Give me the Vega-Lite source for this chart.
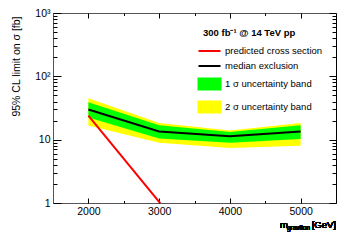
{
  "$schema": "https://vega.github.io/schema/vega-lite/v6.json",
  "width": 283,
  "height": 190,
  "autosize": "none",
  "padding": {"left": 53, "top": 13, "right": 18, "bottom": 37},
  "background": "white",
  "config": {
    "view": {"stroke": null},
    "font": "Liberation Sans",
    "axis": {
      "grid": false,
      "domainColor": "#555555",
      "domainWidth": 1,
      "tickColor": "#000000",
      "tickWidth": 1,
      "labelFont": "Liberation Sans",
      "labelFontSize": 10.5,
      "labelColor": "#000000",
      "titleFont": "Liberation Sans",
      "titleColor": "#000000",
      "titleFontWeight": "normal"
    }
  },
  "data": {
    "values": [
      {"m": 2000, "s": "2 σ uncertainty band", "lo": 16.7, "hi": 45},
      {"m": 3000, "s": "2 σ uncertainty band", "lo": 8.9, "hi": 18.4},
      {"m": 4000, "s": "2 σ uncertainty band", "lo": 7.4, "hi": 14},
      {"m": 5000, "s": "2 σ uncertainty band", "lo": 8.0, "hi": 18.4},
      {"m": 2000, "s": "1 σ uncertainty band", "lo": 22.4, "hi": 39},
      {"m": 3000, "s": "1 σ uncertainty band", "lo": 10.4, "hi": 16.9},
      {"m": 4000, "s": "1 σ uncertainty band", "lo": 8.9, "hi": 13.2},
      {"m": 5000, "s": "1 σ uncertainty band", "lo": 10.2, "hi": 16.9},
      {"m": 2000, "s": "median exclusion", "v": 30},
      {"m": 3000, "s": "median exclusion", "v": 13.5},
      {"m": 4000, "s": "median exclusion", "v": 11.3},
      {"m": 5000, "s": "median exclusion", "v": 13.5},
      {"m": 2000, "s": "predicted cross section", "v": 24},
      {"m": 3000, "s": "predicted cross section", "v": 1.04},
      {"m": 4000, "s": "predicted cross section", "v": 0.05},
      {"m": 5000, "s": "predicted cross section", "v": 0.003}
    ]
  },
  "layer": [
    {
      "transform": [{"filter": "datum.s == '2 σ uncertainty band'"}],
      "mark": {"type": "area", "opacity": 1},
      "encoding": {
        "x": {
          "field": "m", "type": "quantitative",
          "scale": {"domain": [1500, 5500], "nice": false, "zero": false},
          "axis": {
            "orient": "bottom", "title": null,
            "values": [2000, 3000, 4000, 5000],
            "format": "d",
            "ticks": false,
            "tickSize": 0,
            "labelPadding": 3,
            "labelOverlap": false
          }
        },
        "y": {
          "field": "lo", "type": "quantitative",
          "scale": {"type": "log", "domain": [1, 1000], "nice": false},
          "axis": {
            "orient": "left",
            "title": "95% CL limit on σ [fb]",
            "titleFontSize": 10.5,
            "titleAngle": 270,
            "titleAlign": "right",
            "titleBaseline": "middle",
            "titleX": -37,
            "titleY": 3,
            "values": [1, 10, 100, 1000],
            "labelExpr": "datum.value == 1000 ? '10³' : datum.value == 100 ? '10²' : datum.value == 10 ? '10' : '1'",
            "ticks": false,
            "tickSize": 0,
            "labelPadding": 3,
            "labelOverlap": false
          }
        },
        "y2": {"field": "hi"},
        "color": {
          "field": "s", "type": "nominal",
          "scale": {
            "domain": ["predicted cross section", "median exclusion", "1 σ uncertainty band", "2 σ uncertainty band"],
            "range": ["#ff0000", "#000000", "#00ff00", "#ffff00"]
          },
          "legend": {
            "orient": "none",
            "legendX": 150,
            "legendY": 15,
            "title": "300 fb⁻¹ @ 14 TeV pp",
            "titleFont": "Liberation Sans",
            "titleFontSize": 9.5,
            "titleFontWeight": "bold",
            "titleColor": "#000000",
            "titlePadding": 7,
            "labelFont": "Liberation Sans",
            "labelFontSize": 9.5,
            "labelColor": "#000000",
            "labelOffset": 9,
            "symbolSize": 121,
            "symbolType": {"expr": "indexof(['predicted cross section','median exclusion'], datum.value) >= 0 ? 'M-2,0H2' : 'M-2,-1H2V1H-2Z'"},
            "symbolStrokeWidth": 2,
            "rowPadding": 4,
            "encode": {
              "title": {
                "dx": {"value": -4}
              },
              "symbols": {
                "fill": {"value": {"expr": "scale('color', datum.value)"}},
                "stroke": {"value": {"expr": "scale('color', datum.value)"}},
                "strokeWidth": {"value": {"expr": "indexof(['predicted cross section','median exclusion'], datum.value) >= 0 ? 2 : 0"}},
                "opacity": {"value": 1},
                "fillOpacity": {"value": 1}
              }
            }
          }
        }
      }
    },
    {
      "transform": [{"filter": "datum.s == '1 σ uncertainty band'"}],
      "mark": {"type": "area", "opacity": 1},
      "encoding": {
        "x": {
          "field": "m", "type": "quantitative",
          "axis": {
            "orient": "bottom", "title": null, "labels": false, "domain": false,
            "values": [2000, 3000, 4000, 5000],
            "ticks": true, "tickSize": 5, "offset": -5
          }
        },
        "y": {
          "field": "lo", "type": "quantitative",
          "axis": {
            "orient": "left", "title": null, "labels": false, "domain": false,
            "values": [1, 10, 100, 1000],
            "ticks": true, "tickSize": 8, "offset": -8
          }
        },
        "y2": {"field": "hi"},
        "color": {"field": "s", "type": "nominal"}
      }
    },
    {
      "transform": [{"filter": "datum.s == 'median exclusion'"}],
      "mark": {"type": "line", "strokeWidth": 2},
      "encoding": {
        "x": {
          "field": "m", "type": "quantitative",
          "axis": {
            "orient": "bottom", "title": null, "labels": false, "domain": false,
            "values": [2500, 3500, 4500],
            "ticks": true, "tickSize": 2.5, "offset": -2.5
          }
        },
        "y": {
          "field": "v", "type": "quantitative",
          "axis": {
            "orient": "left", "title": null, "labels": false, "domain": false,
            "values": [2,3,4,5,6,7,8,9,20,30,40,50,60,70,80,90,200,300,400,500,600,700,800,900],
            "ticks": true, "tickSize": 4, "offset": -4
          }
        },
        "color": {"field": "s", "type": "nominal"}
      }
    },
    {
      "transform": [{"filter": "datum.s == 'predicted cross section'"}],
      "mark": {"type": "line", "strokeWidth": 2, "clip": true},
      "encoding": {
        "x": {
          "field": "m", "type": "quantitative",
          "axis": {
            "orient": "top", "title": null, "labels": false,
            "values": [2000, 3000, 4000, 5000],
            "ticks": false, "tickSize": 0
          }
        },
        "y": {
          "field": "v", "type": "quantitative",
          "axis": {
            "orient": "right", "title": null, "labels": false,
            "domainColor": "#000000",
            "values": [1, 10, 100, 1000],
            "ticks": false, "tickSize": 0
          }
        },
        "color": {"field": "s", "type": "nominal"}
      }
    },
    {
      "mark": {"type": "text", "text": "[GeV]", "align": "right", "baseline": "alphabetic", "fontSize": 9.5, "font": "Liberation Sans", "color": "#000000"},
      "encoding": {
        "x": {
          "datum": 5500, "type": "quantitative",
          "axis": {
            "orient": "top", "title": null, "labels": false, "domain": false,
            "values": [2000, 3000, 4000, 5000],
            "ticks": true, "tickSize": 5, "offset": -5
          }
        },
        "y": {
          "datum": 0.397, "type": "quantitative",
          "axis": {
            "orient": "right", "title": null, "labels": false, "domain": false,
            "values": [1, 10, 100, 1000],
            "ticks": true, "tickSize": 7, "offset": -7
          }
        }
      }
    },
    {
      "mark": {"type": "text", "text": "graviton", "align": "right", "baseline": "alphabetic", "fontSize": 6.5, "font": "Liberation Sans", "color": "#000000", "dx": -26, "dy": 2},
      "encoding": {
        "x": {
          "datum": 5500, "type": "quantitative",
          "axis": {
            "orient": "top", "title": null, "labels": false, "domain": false,
            "values": [2500, 3500, 4500],
            "ticks": true, "tickSize": 2.5, "offset": -2.5
          }
        },
        "y": {
          "datum": 0.397, "type": "quantitative",
          "axis": {
            "orient": "right", "title": null, "labels": false, "domain": false,
            "values": [2,3,4,5,6,7,8,9,20,30,40,50,60,70,80,90,200,300,400,500,600,700,800,900],
            "ticks": true, "tickSize": 4, "offset": -4
          }
        }
      }
    },
    {
      "mark": {"type": "text", "text": "m", "align": "right", "baseline": "alphabetic", "fontSize": 9.5, "font": "Liberation Sans", "color": "#000000", "dx": -48},
      "encoding": {
        "x": {"datum": 5500, "type": "quantitative", "axis": null},
        "y": {"datum": 0.397, "type": "quantitative", "axis": null}
      }
    }
  ],
  "resolve": {"axis": {"x": "independent", "y": "independent"}}
}
